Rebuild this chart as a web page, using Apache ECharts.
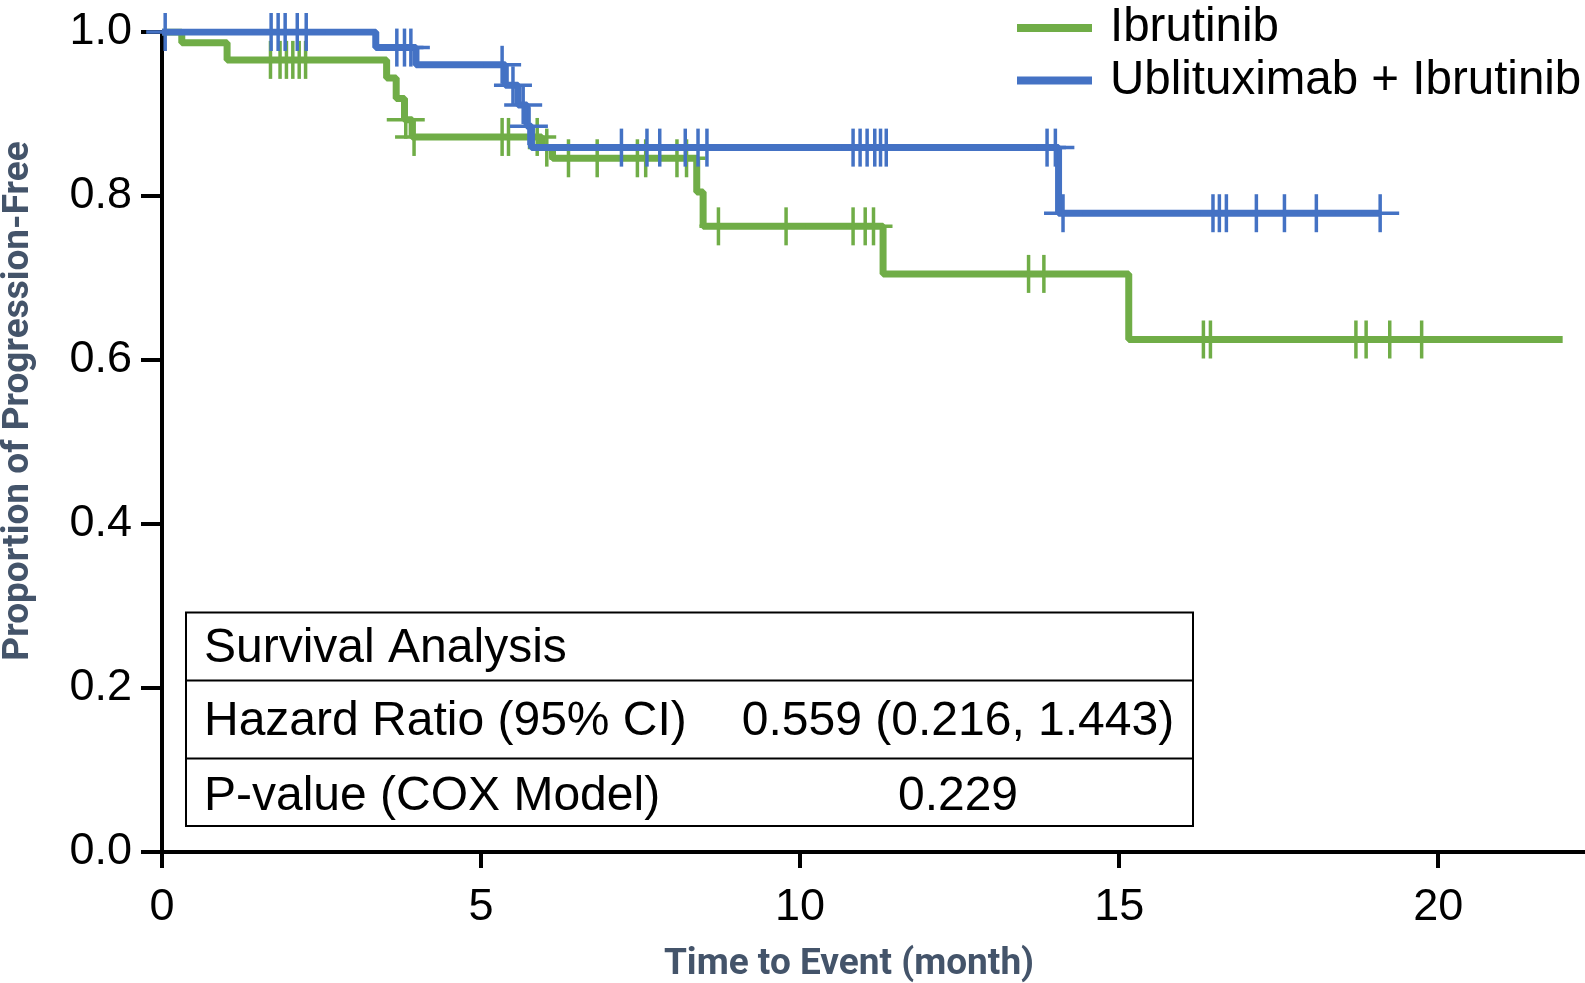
<!DOCTYPE html>
<html>
<head>
<meta charset="utf-8">
<script src="https://cdn.jsdelivr.net/npm/echarts@6/dist/echarts.min.js"></script>
<style>
html,body{margin:0;padding:0;background:#fff;}
#chart{width:1585px;height:983px;}
</style>
</head>
<body>
<div id="chart"></div>
<script>
// ---- Data ----
const seriesNames = ['Ibrutinib', 'Ublituximab + Ibrutinib'];

// Ibrutinib: Kaplan-Meier step times / survival after each step
const ibrTimes = [0, 0.31, 1.02, 3.52, 3.67, 3.80, 3.92, 5.95, 6.12, 8.38, 8.48, 11.30, 15.15, 21.95];
const ibrSurv  = [1.0, 0.987, 0.966, 0.944, 0.919, 0.893, 0.872, 0.859, 0.846, 0.805, 0.763, 0.705, 0.625, 0.625];
const ibrCensor = [1.70, 1.85, 1.95, 2.05, 2.15, 2.25, 3.82, 3.95, 5.33, 5.43, 5.88, 6.03, 6.37, 6.82, 7.45, 7.58,
                   8.07, 8.22, 8.72, 9.78, 10.83, 11.02, 11.15, 13.58, 13.82, 16.32, 16.43, 18.71, 18.87, 19.24, 19.74];

// Ublituximab + Ibrutinib
const ubiTimes = [0, 3.35, 3.98, 5.38, 5.58, 5.72, 5.79, 14.05, 19.09];
const ubiSurv  = [1.0, 0.981, 0.960, 0.935, 0.911, 0.885, 0.859, 0.779, 0.779];
const ubiCensor = [0.05, 1.71, 1.82, 1.93, 2.12, 2.26, 3.68, 3.80, 3.90, 5.33, 5.50, 5.66, 5.75, 7.20, 7.60, 7.80,
                   8.20, 8.40, 8.54, 10.83, 10.94, 11.05, 11.17, 11.26, 11.35, 13.87, 14.00, 14.12,
                   16.47, 16.57, 16.68, 17.15, 17.59, 18.09, 19.09];

const xTicks = [0, 5, 10, 15, 20];

const tableRows = [
  ['Survival Analysis', ''],
  ['Hazard Ratio (95% CI)', '0.559 (0.216, 1.443)'],
  ['P-value (COX Model)', '0.229']
];

// ---- helpers ----
function levelAt(times, surv, t) {
  let s = surv[0];
  for (let i = 0; i < times.length; i++) { if (times[i] <= t) s = surv[i]; }
  return s;
}
const green = '#70AD47', blue = '#4472C4', titleColor = '#44546A';

function measure(font, txt) {
  const c = document.createElement('canvas').getContext('2d');
  c.font = font; return c.measureText(txt).width;
}
const xTitle = 'Time to Event (month)';
const yTitle = 'Proportion of Progression-Free';
const titleFamily = 'Roboto';
const titleSize = Math.round(369 / (measure('bold 100px Roboto, "Open Sans", sans-serif', xTitle) / 100));

const chart = echarts.init(document.getElementById('chart'));

function censorSeries(name, times, surv, cens, color) {
  return {
    name: name, type: 'custom', clip: false, z: 3,
    data: cens.map(t => [t, levelAt(times, surv, t)]),
    renderItem: function (params, api) {
      const p = api.coord([api.value(0), api.value(1)]);
      const h = 19;
      return {
        type: 'group',
        children: [
          { type: 'line', shape: { x1: p[0], y1: p[1] - h, x2: p[0], y2: p[1] + h }, style: { stroke: color, lineWidth: 3.5 } },
          { type: 'line', shape: { x1: p[0] - h, y1: p[1], x2: p[0] + h, y2: p[1] }, style: { stroke: color, lineWidth: 3.5 } }
        ]
      };
    }
  };
}

const tickFont = { fontFamily: '"Liberation Sans", Arial, sans-serif', fontSize: 45, color: '#000' };

const tableFont = '48px "Liberation Sans", Arial, sans-serif';
const box = { x: 186, y: 612.5, w: 1007, h: 213.5 };
const rowCenters = [649, 722, 797];
const graphics = [
  { type: 'rect', z: 100, shape: { x: box.x, y: box.y, width: box.w, height: box.h }, style: { fill: '#fff', stroke: '#000', lineWidth: 2 } },
  { type: 'line', z: 101, shape: { x1: box.x, y1: 680.5, x2: box.x + box.w, y2: 680.5 }, style: { stroke: '#000', lineWidth: 2 } },
  { type: 'line', z: 101, shape: { x1: box.x, y1: 758.5, x2: box.x + box.w, y2: 758.5 }, style: { stroke: '#000', lineWidth: 2 } }
];
tableRows.forEach((r, i) => {
  graphics.push({ type: 'text', z: 102, style: { text: r[0], x: 204, y: rowCenters[i], font: tableFont, fill: '#000', align: 'left', verticalAlign: 'middle' } });
  if (r[1]) graphics.push({ type: 'text', z: 102, style: { text: r[1], x: 958, y: rowCenters[i], font: tableFont, fill: '#000', align: 'center', verticalAlign: 'middle' } });
});

const option = {
  animation: false,
  backgroundColor: '#fff',
  grid: { left: 162, right: 0, top: 32, bottom: 131, outerBoundsMode: 'none', containLabel: false },
  legend: {
    data: seriesNames,
    orient: 'vertical',
    left: 1012, top: -1,
    itemWidth: 75, itemHeight: 8, itemGap: 4.5,
    icon: 'rect',
    textStyle: { fontFamily: '"Liberation Sans", Arial, sans-serif', fontSize: 47.5, lineHeight: 47, color: '#000', padding: [0, 0, 0, 13] }
  },
  xAxis: {
    type: 'value', min: 0, max: 22.3, interval: 5,
    axisLine: { lineStyle: { color: '#000', width: 4 } },
    axisTick: { length: 16, lineStyle: { color: '#000', width: 4 }, customValues: xTicks },
    axisLabel: Object.assign({ margin: 33, customValues: xTicks }, tickFont),
    splitLine: { show: false },
    name: xTitle, nameLocation: 'middle', nameGap: 94,
    nameTextStyle: { fontFamily: titleFamily, fontWeight: 'bold', fontSize: titleSize, color: titleColor, padding: [0, 49, 0, 0] }
  },
  yAxis: {
    type: 'value', min: 0, max: 1, interval: 0.2,
    axisLine: { show: true, lineStyle: { color: '#000', width: 4 } },
    axisTick: { show: true, length: 21, lineStyle: { color: '#000', width: 4 } },
    axisLabel: Object.assign({ margin: 30, formatter: v => v.toFixed(1) }, tickFont),
    splitLine: { show: false },
    name: yTitle, nameLocation: 'middle', nameGap: 125,
    nameTextStyle: { fontFamily: titleFamily, fontWeight: 'bold', fontSize: titleSize, color: titleColor, padding: [0, 0, 0, 82] }
  },
  graphic: graphics,
  series: [
    { name: seriesNames[0], type: 'line', step: 'end', showSymbol: false, symbol: 'none', z: 2,
      itemStyle: { color: green }, lineStyle: { color: green, width: 7 },
      data: ibrTimes.map((t, i) => [t, ibrSurv[i]]) },
    censorSeries('Ibrutinib censored', ibrTimes, ibrSurv, ibrCensor, green),
    { name: seriesNames[1], type: 'line', step: 'end', showSymbol: false, symbol: 'none', z: 4,
      itemStyle: { color: blue }, lineStyle: { color: blue, width: 7 },
      data: ubiTimes.map((t, i) => [t, ubiSurv[i]]) },
    Object.assign(censorSeries('Ublituximab + Ibrutinib censored', ubiTimes, ubiSurv, ubiCensor, blue), { z: 5 })
  ]
};
chart.setOption(option);
</script>
</body>
</html>
